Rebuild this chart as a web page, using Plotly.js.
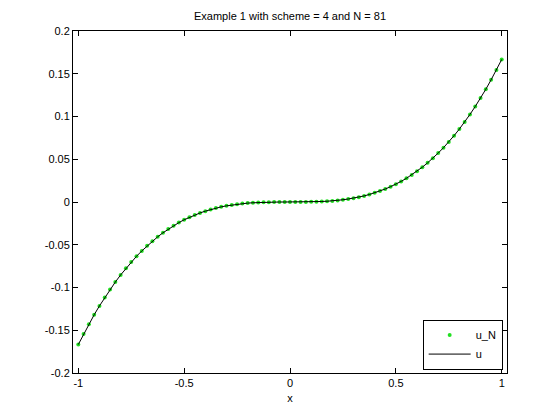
<!DOCTYPE html>
<html>
<head>
<meta charset="utf-8">
<script src="https://cdn.plot.ly/plotly-3.0.1.min.js"></script>
<style>html,body{margin:0;padding:0;background:#fff;}#plot{width:560px;height:420px;}</style>
</head>
<body>
<div id="plot"></div>
<script>
// Grid points x (81 points on [-1,1])
const xs = [-1,-0.975,-0.95,-0.925,-0.9,-0.875,-0.85,-0.825,-0.8,-0.775,-0.75,-0.725,-0.7,-0.675,-0.65,-0.625,-0.6,-0.575,-0.55,-0.525,-0.5,-0.475,-0.45,-0.425,-0.4,-0.375,-0.35,-0.325,-0.3,-0.275,-0.25,-0.225,-0.2,-0.175,-0.15,-0.125,-0.1,-0.075,-0.05,-0.025,0,0.025,0.05,0.075,0.1,0.125,0.15,0.175,0.2,0.225,0.25,0.275,0.3,0.325,0.35,0.375,0.4,0.425,0.45,0.475,0.5,0.525,0.55,0.575,0.6,0.625,0.65,0.675,0.7,0.725,0.75,0.775,0.8,0.825,0.85,0.875,0.9,0.925,0.95,0.975,1];
// Numerical solution u_N
const uN = [-0.1667,-0.1545,-0.1429,-0.1319,-0.1215,-0.1117,-0.1024,-0.0936,-0.0853,-0.0776,-0.0703,-0.0635,-0.0572,-0.0513,-0.0458,-0.0407,-0.0360,-0.0317,-0.0277,-0.0241,-0.0208,-0.0179,-0.0152,-0.0128,-0.0107,-0.0088,-0.0071,-0.0057,-0.0045,-0.0035,-0.0026,-0.0019,-0.0013,-0.0009,-0.0006,-0.0003,-0.0002,-0.0001,0.0000,0.0000,0,0.0000,0.0000,0.0001,0.0002,0.0003,0.0006,0.0009,0.0013,0.0019,0.0026,0.0035,0.0045,0.0057,0.0071,0.0088,0.0107,0.0128,0.0152,0.0179,0.0208,0.0241,0.0277,0.0317,0.0360,0.0407,0.0458,0.0513,0.0572,0.0635,0.0703,0.0776,0.0853,0.0936,0.1024,0.1117,0.1215,0.1319,0.1429,0.1545,0.1667];
// Exact solution u
const uExact = [-0.1667,-0.1545,-0.1429,-0.1319,-0.1215,-0.1117,-0.1024,-0.0936,-0.0853,-0.0776,-0.0703,-0.0635,-0.0572,-0.0513,-0.0458,-0.0407,-0.0360,-0.0317,-0.0277,-0.0241,-0.0208,-0.0179,-0.0152,-0.0128,-0.0107,-0.0088,-0.0071,-0.0057,-0.0045,-0.0035,-0.0026,-0.0019,-0.0013,-0.0009,-0.0006,-0.0003,-0.0002,-0.0001,0.0000,0.0000,0,0.0000,0.0000,0.0001,0.0002,0.0003,0.0006,0.0009,0.0013,0.0019,0.0026,0.0035,0.0045,0.0057,0.0071,0.0088,0.0107,0.0128,0.0152,0.0179,0.0208,0.0241,0.0277,0.0317,0.0360,0.0407,0.0458,0.0513,0.0572,0.0635,0.0703,0.0776,0.0853,0.0936,0.1024,0.1117,0.1215,0.1319,0.1429,0.1545,0.1667];
const xTickVals = [-1,-0.5,0,0.5,1];
const xTickText = ['-1','-0.5','0','0.5','1'];
const yTickVals = [-0.2,-0.15,-0.1,-0.05,0,0.05,0.1,0.15,0.2];
const yTickText = ['-0.2','-0.15','-0.1','-0.05','0','0.05','0.1','0.15','0.2'];

const font = {family: 'Liberation Sans, Arial, sans-serif', size: 11, color: '#000'};
const traces = [
  {x: xs, y: uN, type: 'scatter', mode: 'markers', name: 'u_N',
   marker: {color: '#22e022', size: 4, symbol: 'circle'}},
  {x: xs, y: uExact, type: 'scatter', mode: 'lines', name: 'u',
   line: {color: '#000', width: 1}}
];
const axisCommon = {showline: true, linecolor: '#000', linewidth: 1, mirror: 'ticks',
  ticks: 'inside', ticklen: 5, tickcolor: '#000', showgrid: false, zeroline: false,
  tickfont: font};
const layout = {
  width: 560, height: 420,
  margin: {l: 73, r: 53, t: 31, b: 47},
  paper_bgcolor: '#fff', plot_bgcolor: '#fff',
  font: font,
  title: {text: 'Example 1 with scheme = 4 and N = 81', font: {family: font.family, size: 11, color: '#000'},
          x: 0.5, xref: 'paper', y: 0.962, yref: 'container', yanchor: 'middle'},
  xaxis: Object.assign({}, axisCommon, {range: [-1.025, 1.025], tickvals: xTickVals, ticktext: xTickText,
          title: {text: 'x', font: font, standoff: 6}}),
  yaxis: Object.assign({}, axisCommon, {range: [-0.2, 0.2], tickvals: yTickVals, ticktext: yTickText}),
  showlegend: true,
  legend: {x: 0.99, y: 0.01, xanchor: 'right', yanchor: 'bottom', bgcolor: '#fff',
           bordercolor: '#000', borderwidth: 1, font: font, tracegroupgap: 0,
           itemwidth: 42}
};
Plotly.newPlot('plot', traces, layout, {staticPlot: true, displayModeBar: false});
</script>
</body>
</html>
